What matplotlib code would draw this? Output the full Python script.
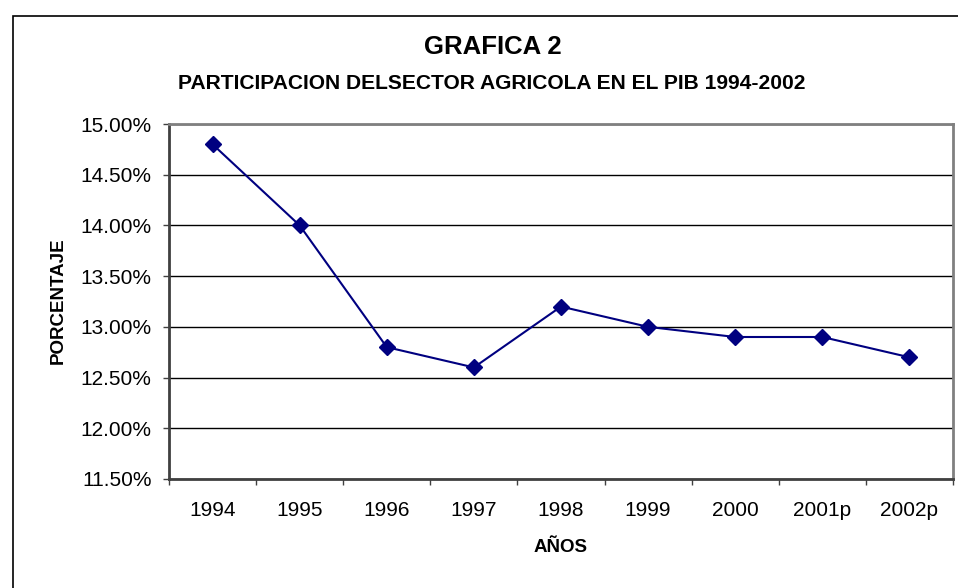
import matplotlib
matplotlib.use("Agg")
from matplotlib import pyplot as plt
from matplotlib.patches import Rectangle
from matplotlib.ticker import FixedLocator, FuncFormatter

# chart data
years = ["1994", "1995", "1996", "1997", "1998", "1999", "2000", "2001p", "2002p"]
share = [14.8, 14.0, 12.8, 12.6, 13.2, 13.0, 12.9, 12.9, 12.7]
y_ticks = [11.5, 12.0, 12.5, 13.0, 13.5, 14.0, 14.5, 15.0]

plt.rcParams["font.family"] = ["Liberation Sans", "DejaVu Sans"]

W, H = 958, 588
fig = plt.figure(figsize=(W / 100, H / 100), dpi=100)
ax = fig.add_axes([169 / W, 1 - 479 / H, (953 - 169) / W, (479 - 124) / H])

x = list(range(len(years)))
ax.plot(x, share, color="#000080", lw=1.5, marker="D", markersize=8,
        markerfacecolor="#000080", markeredgecolor="#000080", zorder=3)

ax.set_xlim(-0.5, len(years) - 0.5)
ax.set_ylim(y_ticks[0], y_ticks[-1])

ax.set_yticks(y_ticks)
ax.yaxis.set_major_formatter(FuncFormatter(lambda v, p: "%.2f%%" % v))
ax.yaxis.grid(True, color="black", lw=1)
ax.set_axisbelow(True)

ax.set_xticks(x)
ax.set_xticklabels(years)
ax.xaxis.set_minor_locator(FixedLocator([i - 0.5 for i in range(len(years) + 1)]))
ax.tick_params(axis="x", which="major", length=0, pad=16, labelsize=15)
ax.tick_params(axis="x", which="minor", length=4.5, width=1, direction="out", color="#404040")
ax.tick_params(axis="y", length=4.5, width=1, direction="out", pad=8, labelsize=15, color="#404040")

ax.spines["top"].set_color("#808080")
ax.spines["top"].set_linewidth(2)
ax.spines["right"].set_color("#808080")
ax.spines["right"].set_linewidth(2)
ax.spines["left"].set_color("#404040")
ax.spines["left"].set_linewidth(2)
ax.spines["bottom"].set_color("#404040")
ax.spines["bottom"].set_linewidth(2)

# titles and axis labels
fig.text(493 / W, 1 - 47 / H, "GRAFICA 2", ha="center", va="center",
         fontsize=18.5, fontweight="bold")
fig.text(492 / W, 1 - 84 / H, "PARTICIPACION DELSECTOR AGRICOLA EN EL PIB 1994-2002",
         ha="center", va="center", fontsize=15.1, fontweight="bold")
fig.text(58 / W, 1 - 301 / H, "PORCENTAJE", ha="center", va="center",
         rotation=90, fontsize=13.5, fontweight="bold")
fig.text(561 / W, 1 - 548 / H, "AÑOS", ha="center", va="center",
         fontsize=13.5, fontweight="bold")

# outer chart frame (runs off the right and bottom edge)
fig.add_artist(Rectangle((12.5 / W, -0.1), 1.2, 1.1 - 16.5 / H,
                         transform=fig.transFigure, fill=False,
                         edgecolor="black", lw=1.2))

fig.savefig("out.png", dpi=100)
